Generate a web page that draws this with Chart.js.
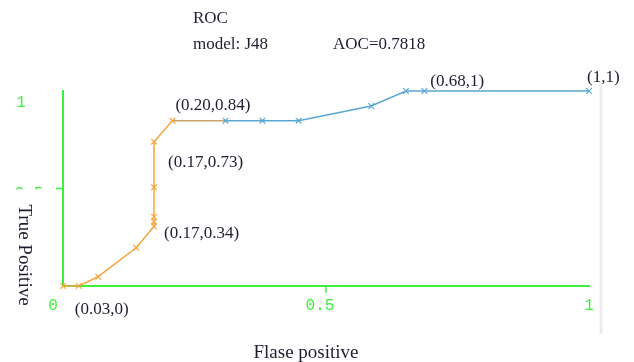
<!DOCTYPE html>
<html>
<head>
<meta charset="utf-8">
<script src="https://cdn.jsdelivr.net/npm/chart.js@4/dist/chart.umd.min.js"></script>
<style>
  html, body { margin: 0; padding: 0; background: #fff; }
</style>
</head>
<body>
<canvas id="roc-chart" width="634" height="362"></canvas>
<script>
// ROC points
const falsePositive = [0, 0.03, 0.067, 0.139, 0.173, 0.173, 0.173, 0.173, 0.173, 0.208, 0.309, 0.379, 0.448, 0.586, 0.652, 0.687, 1];
const truePositive  = [0, 0, 0.048, 0.196, 0.305, 0.33, 0.355, 0.506, 0.74, 0.848, 0.848, 0.848, 0.848, 0.923, 1, 1, 1];

// annotated points (index into the arrays) and their text
const noteIndex = [1, 5, 8, 9, 15, 16];
const noteText = ['(0.03,0)', '(0.17,0.34)', '(0.17,0.73)', '(0.20,0.84)', '(0.68,1)', '(1,1)'];

const xTicks = [0, 0.5, 1];
const xTickLabels = ['0', '0.5', '1'];
const yTicks = [0.5, 1];
const yTickLabels = ['0.5', '1'];

const titleLines = ['ROC', 'model: J48'];
const aocText = 'AOC=0.7818';
const xTitle = 'Flase positive';
const yTitle = 'True Positive';

const GREEN = '#3cf03c';
const ORANGE = '#f4a43c';
const TAN = '#c3a46c';
const BLUE = '#5aa6d2';
const TEXT = '#1e1e30';
const SERIF = '"Liberation Serif", "DejaVu Serif", serif';
const MONO = '"Liberation Mono", "DejaVu Sans Mono", monospace';

function segColor(i) {
  if (i < 9) return ORANGE;
  if (i === 9) return TAN;
  return BLUE;
}

const pointColors = falsePositive.map((v, i) => (i <= 9 ? ORANGE : BLUE));

const textPlugin = {
  id: 'textPlugin',
  afterDraw(chart) {
    const ctx = chart.ctx;
    const xs = chart.scales.x;
    const ys = chart.scales.y;
    ctx.save();

    // light frame line at the right
    ctx.strokeStyle = '#ececec';
    ctx.lineWidth = 3;
    ctx.beginPath();
    ctx.moveTo(601, 85);
    ctx.lineTo(601, 334);
    ctx.stroke();

    // tick marks
    ctx.strokeStyle = GREEN;
    ctx.lineWidth = 1.5;
    ctx.beginPath();
    ctx.moveTo(xs.getPixelForValue(0.5), ys.bottom);
    ctx.lineTo(xs.getPixelForValue(0.5), ys.bottom + 7);
    ctx.moveTo(xs.left - 7, ys.getPixelForValue(0.5));
    ctx.lineTo(xs.left, ys.getPixelForValue(0.5));
    ctx.stroke();

    // tick labels
    ctx.fillStyle = GREEN;
    ctx.font = '16px ' + MONO;
    ctx.textAlign = 'center';
    ctx.textBaseline = 'middle';
    xTicks.forEach((v, i) => {
      let px = xs.getPixelForValue(v);
      if (i === 0) px -= 10;
      if (i === 1) px -= 6;
      ctx.fillText(xTickLabels[i], px, ys.bottom + 20);
    });
    yTicks.forEach((v, i) => {
      const py = ys.getPixelForValue(v);
      if (v === 1) {
        ctx.fillText(yTickLabels[i], 21, py + 12);
      } else {
        // only the top of this label shows in the original
        ctx.save();
        ctx.beginPath();
        ctx.rect(0, py - 2, 50, 3);
        ctx.clip();
        ctx.fillText(yTickLabels[i], 29, py + 5);
        ctx.restore();
      }
    });

    // point notes
    ctx.fillStyle = TEXT;
    ctx.font = '17px ' + SERIF;
    ctx.textAlign = 'left';
    const offs = [[-4, 24], [10, 12], [14, 21], [3, -15], [6, -9], [-2, -13]];
    noteIndex.forEach((idx, k) => {
      const px = xs.getPixelForValue(falsePositive[idx]);
      const py = ys.getPixelForValue(truePositive[idx]);
      ctx.fillText(noteText[k], px + offs[k][0], py + offs[k][1]);
    });

    // titles
    ctx.fillText(titleLines[0], 193, 19);
    ctx.fillText(titleLines[1], 193, 45);
    ctx.fillText(aocText, 333, 45);

    ctx.font = '19px ' + SERIF;
    ctx.textAlign = 'center';
    ctx.textBaseline = 'alphabetic';
    ctx.fillText(xTitle, 306, 358);

    ctx.save();
    ctx.translate(19, 255);
    ctx.rotate(Math.PI / 2);
    ctx.fillText(yTitle, 0, 0);
    ctx.restore();

    ctx.restore();
  }
};

const ctx = document.getElementById('roc-chart').getContext('2d');
const rocChart = new Chart(ctx, {
  type: 'line',
  data: {
    datasets: [{
      data: falsePositive.map((x, i) => ({ x: x, y: truePositive[i] })),
      borderWidth: 1.5,
      borderColor: BLUE,
      segment: {
        borderColor: c => segColor(c.p0DataIndex)
      },
      pointStyle: 'crossRot',
      pointRadius: 4,
      pointBorderWidth: 1.2,
      pointBorderColor: pointColors,
      pointBackgroundColor: pointColors,
      tension: 0,
      clip: false
    }]
  },
  options: {
    responsive: false,
    animation: false,
    devicePixelRatio: 1,
    layout: { padding: { left: 55, right: 45, top: 91, bottom: 68 } },
    plugins: {
      legend: { display: false },
      tooltip: { enabled: false }
    },
    scales: {
      x: {
        type: 'linear',
        min: 0,
        max: 1,
        grid: { display: false },
        ticks: { display: false },
        border: { color: GREEN, width: 2 }
      },
      y: {
        type: 'linear',
        min: 0,
        max: 1,
        grid: { display: false },
        ticks: { display: false },
        border: { color: GREEN, width: 2 }
      }
    }
  },
  plugins: [textPlugin]
});
</script>
</body>
</html>
